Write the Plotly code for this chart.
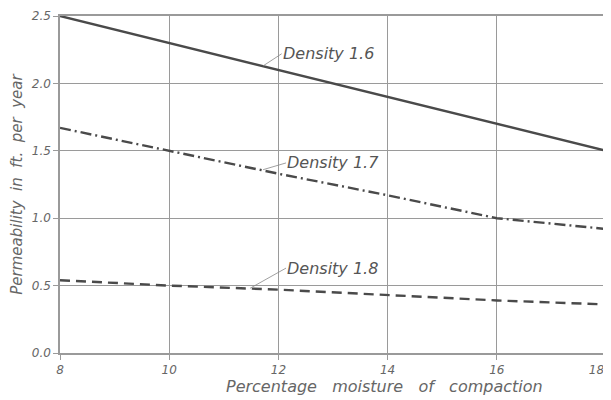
import plotly.graph_objects as go

moisture = [8, 10, 12, 14, 16, 18]
density_16 = [2.50, 2.30, 2.10, 1.90, 1.70, 1.50]
density_17 = [1.67, 1.50, 1.33, 1.17, 1.00, 0.92]
density_18 = [0.54, 0.50, 0.47, 0.43, 0.39, 0.36]

x_ticks = [8, 10, 12, 14, 16, 18]
x_tick_labels = ["8", "10", "12", "14", "16", "18&nbsp;&nbsp;&nbsp;&nbsp;&nbsp;"]
y_ticks = [0.0, 0.5, 1.0, 1.5, 2.0, 2.5]

line_col = "#4a4a4a"
grid_col = "#9a9a9a"
text_col = "#666666"
font_family = "DejaVu Sans"

fig = go.Figure()
fig.add_trace(go.Scatter(x=moisture, y=density_16, mode="lines",
                         line=dict(color=line_col, width=2.4, dash="solid"), showlegend=False))
fig.add_trace(go.Scatter(x=moisture, y=density_17, mode="lines",
                         line=dict(color=line_col, width=2.4, dash="11px,4px,2px,4px"), showlegend=False))
fig.add_trace(go.Scatter(x=moisture, y=density_18, mode="lines",
                         line=dict(color=line_col, width=2.4, dash="10px,6px"), showlegend=False))

labels = [
    ("Density 1.6", 11.72, 2.13, 12.06, 2.22),
    ("Density 1.7", 11.72, 1.36, 12.14, 1.41),
    ("Density 1.8", 11.48, 0.48, 12.14, 0.63),
]
for txt, px, py, tx, ty in labels:
    fig.add_annotation(x=px, y=py, ax=tx, ay=ty, axref="x", ayref="y", xref="x", yref="y",
                       text=txt, showarrow=True, arrowhead=0, arrowwidth=0.8, arrowcolor="#888",
                       xanchor="left", yanchor="middle", borderpad=0,
                       font=dict(family=font_family, size=16, color="#555", style="italic"))

# x-axis title (offset to the right of centre, as in the reference)
fig.add_annotation(text="Percentage   moisture   of   compaction", xref="paper", yref="paper",
                   x=0.595, y=-0.10, xanchor="center", yanchor="middle", showarrow=False,
                   font=dict(family=font_family, size=16, color=text_col, style="italic"))

axis_common = dict(showgrid=True, gridcolor=grid_col, gridwidth=1,
                   showline=True, linecolor=grid_col, linewidth=1.5, mirror=True,
                   zeroline=False, ticks="outside", ticklen=5, tickcolor=grid_col,
                   automargin=False, ticklabeloverflow="allow",
                   tickfont=dict(family=font_family, size=12, color=text_col, style="italic"))

fig.update_xaxes(range=[8, 18], tickvals=x_ticks, ticktext=x_tick_labels,
                 **axis_common)
fig.update_yaxes(range=[0, 2.5], tickvals=y_ticks, tickformat=".1f",
                 title=dict(text="Permeability  in  ft.  per  year", standoff=7,
                            font=dict(family=font_family, size=15, color=text_col, style="italic")),
                 **axis_common)

fig.update_layout(width=611, height=400, margin=dict(l=52, r=13, t=8, b=55),
                  plot_bgcolor="white", paper_bgcolor="white")
fig.write_html("out.html")
